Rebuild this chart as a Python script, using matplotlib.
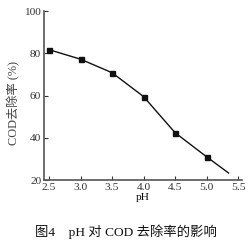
import matplotlib
matplotlib.use("Agg")
import matplotlib.pyplot as plt
import numpy as np

ph = [2.5, 3.0, 3.5, 4.0, 4.5, 5.0]
cod_removal = [81.7, 77.2, 70.8, 59.5, 42.4, 31.0]
# fitted curve continues beyond the last measured point
curve_ph = [2.5, 3.0, 3.5, 4.0, 4.5, 5.0, 5.35]
curve_val = [81.7, 77.2, 70.8, 59.5, 42.4, 31.0, 23.3]
xticks = [2.5, 3.0, 3.5, 4.0, 4.5, 5.0, 5.5]
yticks = [20, 40, 60, 80, 100]

serif = ["Liberation Serif", "DejaVu Serif"]
cjk = ["Liberation Serif", "Noto Sans CJK SC", "DejaVu Sans"]

fig = plt.figure(figsize=(2.51, 2.40), dpi=100)
ax = fig.add_axes([0.1753, 0.25, 0.789, 0.704])

ax.plot(curve_ph, curve_val, color="#111111", lw=1.0, zorder=2)
ax.plot(ph, cod_removal, ls="none", marker="s", ms=3.6, color="#111111", zorder=3)

ax.set_xlim(2.42, 5.563)
ax.set_ylim(20, 100)
ax.set_xticks(xticks)
ax.set_xticklabels([f"{v:.1f}" for v in xticks], fontfamily=serif, fontsize=8.2)
ax.set_yticks(yticks)
ax.set_yticklabels([str(v) for v in yticks], fontfamily=serif, fontsize=8.2)
ax.tick_params(direction="in", length=3, width=0.8, colors="#333333", pad=2)
for s in ["top", "right"]:
    ax.spines[s].set_visible(False)
for s in ["left", "bottom"]:
    ax.spines[s].set_color("#555555")
    ax.spines[s].set_linewidth(1.2)

ax.set_xlabel("pH", fontfamily=serif, fontsize=8.2, labelpad=1)
fig.text(0.054, 0.57, "COD去除率 (%)", rotation=90, ha="center", va="center",
         fontfamily=cjk, fontsize=8.8, color="#444444")

fig.text(0.5, 0.033, "图4    pH 对 COD 去除率的影响", ha="center", va="center",
         fontfamily=cjk, fontsize=9.6, fontweight="medium", color="#111111")

fig.savefig("out.png", dpi=100)
